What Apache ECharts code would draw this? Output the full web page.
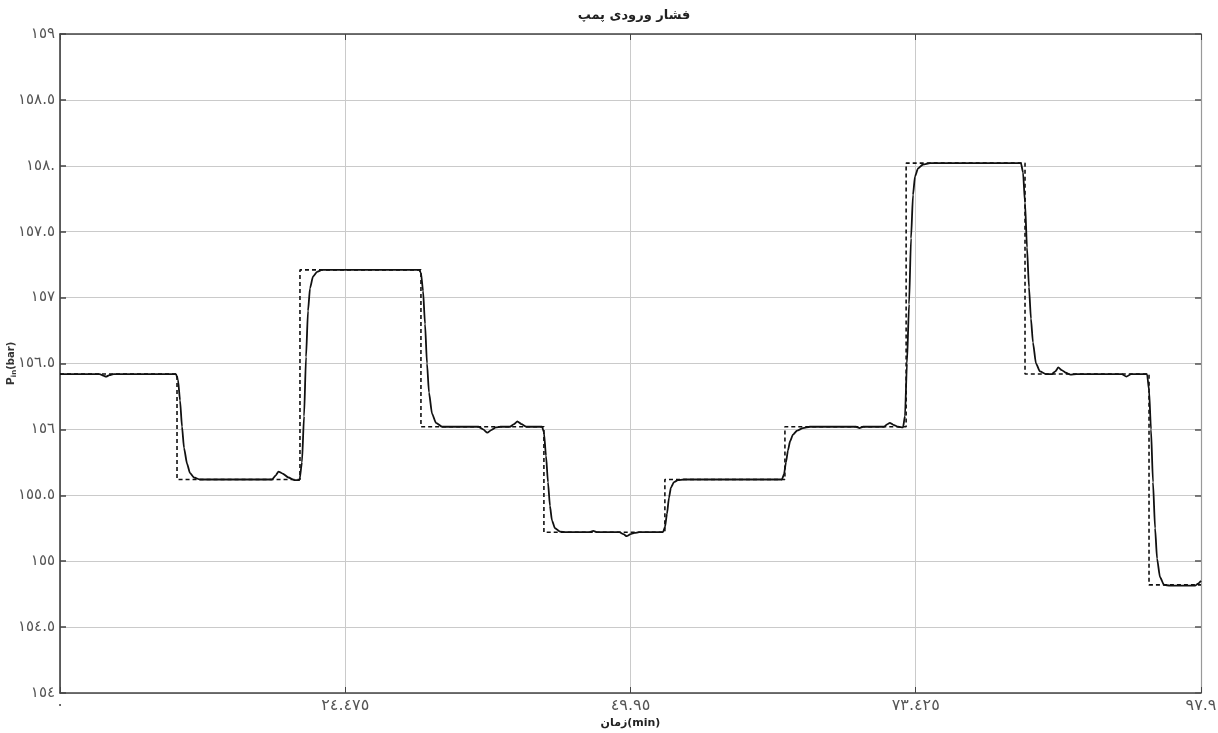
<!DOCTYPE html>
<html>
<head>
<meta charset="utf-8">
<script src="https://cdn.jsdelivr.net/npm/echarts@6/dist/echarts.min.js"></script>
<style>
  html, body { margin: 0; padding: 0; background: #fff; }
  #chart { width: 1218px; height: 733px; }
</style>
</head>
<body>
<div id="chart"></div>
<script>
// Pump inlet pressure: setpoint steps (dashed) and measured response (solid)
const titleText = 'فشار ورودی پمپ';
const xName = 'زمان(min)';

// Setpoint: switching times (min) and the level held after each switch (bar)
const stepTimes = [0, 10.04, 20.59, 30.97, 41.52, 51.9, 62.2, 72.6, 82.8, 93.44, 97.9];
const stepLevels = [156.42, 155.62, 157.21, 156.02, 155.22, 155.62, 156.02, 158.02, 156.42, 154.82];

// Measured pressure
const respTime = [
  0, 3.4, 3.7, 3.95, 4.25, 4.6, 9.95,
  10.12, 10.3, 10.47, 10.64, 10.9, 11.15, 11.5, 12.0,
  18.2, 18.5, 18.75, 19.1, 19.6, 20.1, 20.55,
  20.76, 20.94, 21.11, 21.28, 21.45, 21.71, 22.05, 22.48,
  30.8, 30.97, 31.15, 31.32, 31.49, 31.66, 31.92, 32.26, 32.78,
  35.9, 36.3, 36.67, 37.0, 37.4, 37.8, 38.6, 38.95, 39.24, 39.6, 40.0,
  41.36, 41.52, 41.7, 41.87, 42.04, 42.21, 42.47, 42.9, 43.42,
  45.4, 45.76, 46.1, 48.0, 48.35, 48.62, 48.95, 49.3, 49.7,
  51.74, 51.91, 52.08, 52.25, 52.42, 52.68, 53.02, 53.54,
  61.95, 62.12, 62.29, 62.46, 62.64, 62.89, 63.24, 63.75, 64.35,
  68.3, 68.6, 68.9, 70.7, 71.0, 71.2, 71.5, 71.9,
  72.33, 72.5, 72.67, 72.85, 73.02, 73.19, 73.36, 73.62, 74.05, 74.65,
  82.45, 82.63, 82.8, 82.97, 83.14, 83.31, 83.48, 83.74, 84.08, 84.6,
  85.1, 85.4, 85.66, 85.95, 86.3, 86.7, 87.2,
  91.1, 91.5, 91.9,
  93.27, 93.44, 93.61, 93.78, 93.96, 94.13, 94.38, 94.73, 95.24,
  97.39, 97.65, 97.9
];
const respValue = [
  156.42, 156.42, 156.408, 156.40, 156.412, 156.42, 156.42,
  156.38, 156.22, 156.02, 155.86, 155.74, 155.67, 155.635, 155.62,
  155.62, 155.65, 155.68, 155.665, 155.635, 155.615, 155.615,
  155.75, 156.1, 156.55, 156.9, 157.07, 157.16, 157.195, 157.21,
  157.21, 157.19, 157.05, 156.8, 156.5, 156.28, 156.12, 156.05, 156.02,
  156.02, 156.0, 155.975, 155.995, 156.015, 156.02, 156.02, 156.04, 156.06, 156.04, 156.02,
  156.02, 155.98, 155.8, 155.6, 155.42, 155.31, 155.25, 155.225, 155.22,
  155.22, 155.23, 155.22, 155.22, 155.205, 155.19, 155.205, 155.215, 155.22,
  155.22, 155.26, 155.36, 155.48, 155.56, 155.6, 155.615, 155.62,
  155.62, 155.66, 155.75, 155.84, 155.91, 155.96, 155.99, 156.01, 156.02,
  156.02, 156.01, 156.02, 156.02, 156.04, 156.05, 156.035, 156.02,
  156.015, 156.1, 156.5, 156.95, 157.45, 157.78, 157.92, 157.98, 158.01, 158.02,
  158.02, 157.95, 157.72, 157.38, 157.08, 156.84, 156.66, 156.5, 156.44, 156.42,
  156.42, 156.44, 156.47, 156.45, 156.43, 156.415, 156.42,
  156.42, 156.40, 156.42,
  156.42, 156.30, 156.0, 155.6, 155.25, 155.02, 154.88, 154.82, 154.815,
  154.815, 154.83, 154.85
];

// Axis ticks and their printed labels
const xTickValues = [0, 24.475, 48.95, 73.425, 97.9];
const xTickLabels = ['٠', '٢٤.٤٧٥', '٤٩.٩٥', '٧٣.٤٢٥', '٩٧.٩'];
const yTickValues = [154, 154.5, 155, 155.5, 156, 156.5, 157, 157.5, 158, 158.5, 159];
const yTickLabels = ['١٥٤', '١٥٤.٥', '١٥٥', '١٥٥.٥', '١٥٦', '١٥٦.٥', '١٥٧', '١٥٧.٥', '١٥٨.', '١٥٨.٥', '١٥٩'];

function labelFor(values, labels, v) {
  let best = 0;
  for (let i = 1; i < values.length; i++) {
    if (Math.abs(values[i] - v) < Math.abs(values[best] - v)) best = i;
  }
  return labels[best];
}

const setpointData = [];
for (let i = 0; i < stepLevels.length; i++) {
  setpointData.push([stepTimes[i], stepLevels[i]]);
  setpointData.push([stepTimes[i + 1], stepLevels[i]]);
}
const responseData = respTime.map((t, i) => [t, respValue[i]]);

const font = '"DejaVu Sans", "Liberation Sans", sans-serif';

const chart = echarts.init(document.getElementById('chart'), null, { renderer: 'canvas' });
chart.setOption({
  backgroundColor: '#ffffff',
  animation: false,
  title: {
    text: titleText,
    left: 629,
    textAlign: 'center',
    top: 4,
    textStyle: { fontFamily: font, fontSize: 13, fontWeight: 'bold', color: '#222' }
  },
  grid: { left: 60, right: 17, top: 34, bottom: 40, outerBoundsMode: 'none', containLabel: false },
  xAxis: [
    {
      type: 'value',
      min: 0, max: 97.9, interval: 24.475,
      name: xName,
      nameLocation: 'middle',
      nameGap: 25,
      nameMoveOverlap: false,
      nameTextStyle: { fontFamily: font, fontSize: 11, fontWeight: 'bold', color: '#222' },
      axisLine: { show: true, onZero: false, lineStyle: { color: '#444', width: 1.5 } },
      axisTick: { show: true, inside: true, length: 6, lineStyle: { color: '#444' } },
      axisLabel: {
        fontFamily: font, fontSize: 16, color: '#555', margin: 5,
        formatter: v => labelFor(xTickValues, xTickLabels, v)
      },
      splitLine: { show: true, lineStyle: { color: '#cacaca', width: 1 } }
    },
    {
      type: 'value', position: 'top',
      min: 0, max: 97.9, interval: 24.475,
      axisLine: { show: true, onZero: false, lineStyle: { color: '#444', width: 1.5 } },
      axisTick: { show: true, inside: true, length: 6, lineStyle: { color: '#444' } },
      axisLabel: { show: false },
      splitLine: { show: false }
    }
  ],
  yAxis: [
    {
      type: 'value',
      min: 154, max: 159, interval: 0.5,
      name: '{p|P}{s|in}{b|(bar)}',
      nameLocation: 'middle',
      nameGap: 42,
      nameMoveOverlap: false,
      nameTextStyle: {
        fontFamily: font, color: '#333',
        rich: {
          p: { fontFamily: font, fontSize: 11, fontWeight: 'bold', color: '#333' },
          s: { fontFamily: font, fontSize: 7, fontWeight: 'bold', color: '#333', padding: [6, 0, 0, 0] },
          b: { fontFamily: font, fontSize: 10, fontWeight: 'bold', color: '#333' }
        }
      },
      axisLine: { show: true, onZero: false, lineStyle: { color: '#333', width: 1.5 } },
      axisTick: { show: true, inside: true, length: 6, lineStyle: { color: '#444', width: 1.5 } },
      axisLabel: {
        fontFamily: font, fontSize: 15, color: '#555', margin: 5,
        formatter: v => labelFor(yTickValues, yTickLabels, v)
      },
      splitLine: { show: true, lineStyle: { color: '#cacaca', width: 1 } }
    },
    {
      type: 'value', position: 'right',
      min: 154, max: 159, interval: 0.5,
      axisLine: { show: true, onZero: false, lineStyle: { color: '#999', width: 1.2 } },
      axisTick: { show: true, inside: true, length: 6, lineStyle: { color: '#555', width: 1.5 } },
      axisLabel: { show: false },
      splitLine: { show: false }
    }
  ],
  series: [
    {
      name: 'setpoint',
      type: 'line',
      data: setpointData,
      showSymbol: false,
      symbol: 'none',
      lineStyle: { color: '#111', width: 1.6, type: [4, 3] },
      z: 3
    },
    {
      name: 'pressure',
      type: 'line',
      data: responseData,
      showSymbol: false,
      symbol: 'none',
      smooth: 0.2,
      smoothMonotone: 'x',
      lineStyle: { color: '#111', width: 1.8 },
      z: 4
    }
  ]
});
</script>
</body>
</html>
